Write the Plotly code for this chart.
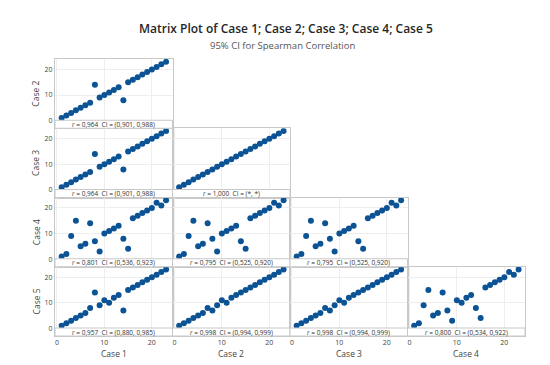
import plotly.graph_objects as go

# ---------------- data ----------------
case_names = ["Case 1", "Case 2", "Case 3", "Case 4", "Case 5"]
case1 = [1, 2, 3, 4, 5, 6, 7, 8, 9, 10, 11, 12, 13, 14, 15, 16, 17, 18, 19, 20, 21, 22, 23]
case2 = [1, 2, 3, 4, 5, 6, 7, 14, 9, 10, 11, 12, 13, 8, 15, 16, 17, 18, 19, 20, 21, 22, 23]
case3 = [1, 2, 3, 4, 5, 6, 7, 14, 9, 10, 11, 12, 13, 8, 15, 16, 17, 18, 19, 20, 21, 22, 23]
case4 = [1, 2, 9, 15, 5, 6, 14, 7, 3, 10, 11, 12, 13, 8, 4, 16, 17, 18, 19, 20, 22, 21, 23]
case5 = [1, 2, 3, 4, 5, 6, 8, 14, 9, 11, 10, 12, 13, 7, 15, 16, 17, 18, 19, 20, 21, 22, 23]
cases = [case1, case2, case3, case4, case5]

# Spearman r and 95% CI per panel (row-major, lower triangle)
r_values = ["0,964", "0,964", "1,000", "0,801", "0,795", "0,795",
            "0,957", "0,998", "0,998", "0,800"]
ci_values = ["(0,901, 0,988)", "(0,901, 0,988)", "(*, *)", "(0,536, 0,923)",
             "(0,525, 0,920)", "(0,525, 0,920)", "(0,880, 0,985)",
             "(0,994, 0,999)", "(0,994, 0,999)", "(0,534, 0,922)"]
tick_values = [0, 10, 20]

# ---------------- layout geometry ----------------
W, H = 550, 365
LEFT, RIGHT = 47, 517
TOP, BOTTOM = 51, 328
CW = (RIGHT - LEFT) / 4
RH = (BOTTOM - TOP) / 4
STRIP = 8 / RH

MARK = "#0b5394"
BORDER = "#c8c8c8"
GRID = "#eeeeee"
TXT = "#444444"
FONT = "Open Sans"

fig = go.Figure()
layout = {}
shapes = []
annotations = []

k = 0
for r in range(4):
    for c in range(r + 1):
        k += 1
        xa = "x" if k == 1 else f"x{k}"
        ya = "y" if k == 1 else f"y{k}"
        xs = cases[c]
        ys = cases[r + 1]
        fig.add_trace(go.Scatter(
            x=xs, y=ys, mode="markers", xaxis=xa, yaxis=ya,
            marker=dict(color=MARK, size=6, line=dict(width=0)),
            showlegend=False,
            hovertemplate=f"{case_names[c]}=%{{x}}<br>{case_names[r+1]}=%{{y}}<extra></extra>",
        ))
        x0 = (LEFT + c * CW) / W
        x1 = (LEFT + (c + 1) * CW) / W
        y1 = 1 - (TOP + r * RH) / H
        y0 = 1 - (TOP + (r + 1) * RH) / H
        layout["xaxis" if k == 1 else f"xaxis{k}"] = dict(
            domain=[x0, x1], range=[-0.4, 24.35], anchor=ya,
            showline=True, mirror=True, linecolor=BORDER, linewidth=1,
            showgrid=True, gridcolor=GRID, gridwidth=1, zeroline=False,
            tickvals=tick_values, ticks="", showticklabels=(r == 3),
            tickfont=dict(family=FONT, size=7, color=TXT),
            automargin=False, fixedrange=True,
        )
        layout["yaxis" if k == 1 else f"yaxis{k}"] = dict(
            domain=[y0, y1], range=[-3.0, 24.1], anchor=xa,
            showline=True, mirror=True, linecolor=BORDER, linewidth=1,
            showgrid=True, gridcolor=GRID, gridwidth=1, zeroline=False,
            tickvals=tick_values, ticks="", showticklabels=(c == 0),
            tickfont=dict(family=FONT, size=7, color=TXT),
            automargin=False, fixedrange=True,
        )
        # label strip at bottom of panel
        shapes.append(dict(
            type="rect", xref=f"{xa} domain", yref=f"{ya} domain",
            x0=0, x1=1, y0=0, y1=STRIP, fillcolor="white",
            line=dict(color=BORDER, width=1), layer="above",
        ))
        annotations.append(dict(
            xref=f"{xa} domain", yref=f"{ya} domain", x=0.5, y=STRIP / 2,
            xanchor="center", yanchor="middle", showarrow=False,
            text=f"<i>r</i> = {r_values[k-1]}\u00a0\u00a0CI = {ci_values[k-1]}",
            font=dict(family=FONT, size=6.5, color="#333333"),
        ))

# axis titles
for r in range(4):
    yc = 1 - (TOP + (r + 0.5) * RH) / H
    annotations.append(dict(
        xref="paper", yref="paper", x=28 / W, y=yc, xanchor="center", yanchor="middle",
        text=case_names[r + 1], textangle=-90, showarrow=False,
        font=dict(family=FONT, size=8.5, color=TXT),
    ))
for c in range(4):
    xc = (LEFT + (c + 0.5) * CW) / W
    annotations.append(dict(
        xref="paper", yref="paper", x=xc, y=1 - 345 / H, xanchor="center", yanchor="middle",
        text=case_names[c], showarrow=False,
        font=dict(family=FONT, size=8.5, color=TXT),
    ))

# titles
annotations.append(dict(
    xref="paper", yref="paper", x=278 / W, y=1 - 20.5 / H, xanchor="center", yanchor="middle",
    text="Matrix Plot of Case 1; Case 2; Case 3; Case 4; Case 5", showarrow=False,
    font=dict(family=FONT, size=12, color="#262626", weight=600),
))
annotations.append(dict(
    xref="paper", yref="paper", x=274 / W, y=1 - 37 / H, xanchor="center", yanchor="middle",
    text="95% CI for Spearman Correlation", showarrow=False,
    font=dict(family=FONT, size=9.5, color="#555555"),
))

fig.update_layout(
    width=W, height=H,
    margin=dict(l=0, r=0, t=0, b=0),
    paper_bgcolor="white", plot_bgcolor="white",
    shapes=shapes, annotations=annotations,
    **layout,
)

fig.write_html("out.html")
